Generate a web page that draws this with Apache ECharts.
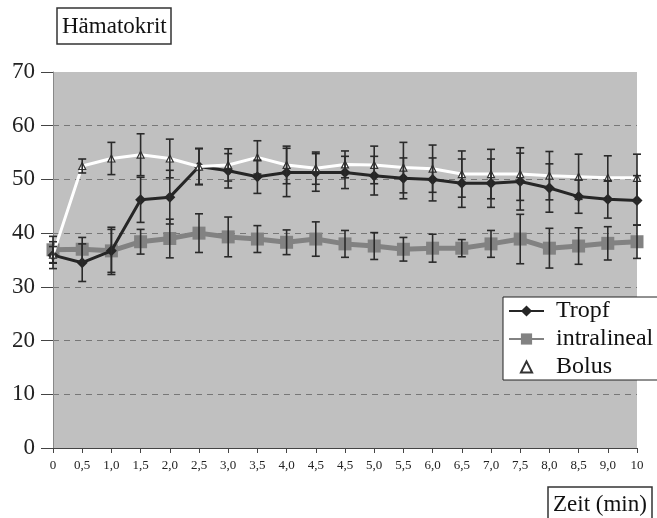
<!DOCTYPE html>
<html>
<head>
<meta charset="utf-8">
<script src="https://cdn.jsdelivr.net/npm/echarts@6/dist/echarts.min.js"></script>
<style>html,body{margin:0;padding:0;background:#fff;}#c{width:657px;height:518px;}</style>
</head>
<body>
<div id="c"></div>
<script>
const categories = ['0','0,5','1,0','1,5','2,0','2,5','3,0','3,5','4,0','4,5','4,5','5,0','5,5','6,0','6,5','7,0','7,5','8,0','8,5','9,0','10'];
const yTicks = [0,10,20,30,40,50,60,70];
const tropf = [35.9,34.5,36.7,46.2,46.7,52.4,51.6,50.5,51.3,51.3,51.3,50.7,50.2,50.0,49.3,49.3,49.6,48.4,46.8,46.3,46.1];
const tropfErr = [2.5,3.5,4.4,4.2,5.0,3.4,3.2,3.1,4.5,3.5,3.0,3.6,3.8,4.0,4.5,4.5,5.3,4.5,3.1,3.5,4.6];
const intra = [36.9,37.0,36.7,38.4,39.0,40.0,39.3,38.9,38.3,38.9,38.0,37.6,37.0,37.2,37.2,38.0,38.9,37.2,37.6,38.1,38.4];
const intraErr = [2.5,2.2,4.0,2.3,3.6,3.6,3.7,2.5,2.3,3.2,2.5,2.5,2.2,2.6,1.6,2.5,4.6,3.7,3.4,3.1,3.1];
const bolus = [36.0,52.5,53.9,54.6,53.9,52.4,52.7,54.1,52.7,52.1,52.8,52.7,52.2,52.0,51.0,51.0,51.0,50.7,50.5,50.3,50.3];
const bolusErr = [1.5,1.3,3.0,3.9,3.6,3.3,3.0,3.1,3.5,3.0,2.5,3.5,4.7,4.4,4.3,4.6,4.9,4.5,4.2,4.1,4.4];

function errData(vals, errs){ return vals.map((v,i)=>[i, v-errs[i], v+errs[i]]); }
function errSeries(vals, errs){
  return {
    type:'custom', z:6, silent:true,
    data: errData(vals, errs),
    encode:{x:0, y:[1,2]},
    renderItem:function(params, api){
      const x = api.value(0);
      const lo = api.coord([x, api.value(1)]);
      const hi = api.coord([x, api.value(2)]);
      const w = 4;
      const st = {stroke:'#2a2a2a', lineWidth:1.6};
      return {type:'group', children:[
        {type:'line', shape:{x1:hi[0],y1:hi[1],x2:lo[0],y2:lo[1]}, style:st},
        {type:'line', shape:{x1:hi[0]-w,y1:hi[1],x2:hi[0]+w,y2:hi[1]}, style:st},
        {type:'line', shape:{x1:lo[0]-w,y1:lo[1],x2:lo[0]+w,y2:lo[1]}, style:st}
      ]};
    }
  };
}
const serif = 'Liberation Serif';
const chart = echarts.init(document.getElementById('c'));
chart.setOption({
  animation:false,
  backgroundColor:'#fff',
  title:[
    {text:'Hämatokrit', left:57, top:8, padding:[7,5,6,5], borderWidth:1.5, borderColor:'#333',
     textStyle:{fontFamily:serif, fontSize:23, fontWeight:'normal', color:'#111'}},
    {text:'Zeit (min)', left:548, top:487, padding:[6,5,6,5], borderWidth:1.5, borderColor:'#333',
     textStyle:{fontFamily:serif, fontSize:23, fontWeight:'normal', color:'#111'}}
  ],
  grid:{left:53, right:20, top:72, bottom:70, show:true, backgroundColor:'#c0c0c0', borderWidth:0},
  legend:{
    orient:'vertical', left:503, top:297, padding:[2,40,1,5], itemGap:4,
    backgroundColor:'#fff', borderColor:'#222', borderWidth:1,
    itemWidth:35, itemHeight:14,
    textStyle:{fontFamily:serif, fontSize:24, color:'#111', lineHeight:24, padding:[0,0,0,7]},
    data:[
      {name:'Tropf'},
      {name:'intralineal'},
      {name:'Bolus', lineStyle:{opacity:0}}
    ]
  },
  xAxis:{
    type:'category', data:categories, boundaryGap:false,
    axisLine:{lineStyle:{color:'#444', width:1}},
    axisTick:{show:true, length:5, lineStyle:{color:'#444'}},
    axisLabel:{fontFamily:serif, fontSize:13, color:'#222', margin:11, interval:0},
    splitLine:{show:false}
  },
  yAxis:{
    type:'value', min:0, max:70, interval:10,
    axisLine:{show:true, lineStyle:{color:'#888', width:1}},
    axisTick:{show:true, length:12, lineStyle:{color:'#444'}},
    axisLabel:{fontFamily:serif, fontSize:23, color:'#222', margin:18,
      formatter:function(v){ return yTicks.indexOf(v)>=0 ? String(v) : ''; }},
    splitLine:{show:true, lineStyle:{type:[6,5], color:['#777','#777','#777','#777','#777','#777','#777','rgba(0,0,0,0)'], width:1}}
  },
  series:[
    {name:'Tropf', type:'line', data:tropf, z:4, symbol:'diamond', symbolSize:11,
     lineStyle:{color:'#262626', width:3}, itemStyle:{color:'#262626'}},
    {name:'intralineal', type:'line', data:intra, z:3, symbol:'rect', symbolSize:13,
     lineStyle:{color:'#828282', width:5}, itemStyle:{color:'#828282'}},
    {name:'Bolus', type:'line', data:bolus, z:5, symbol:'triangle', symbolSize:7,
     lineStyle:{color:'#ffffff', width:3}, itemStyle:{color:'#ffffff', borderColor:'#333', borderWidth:1.2}},
    errSeries(tropf, tropfErr),
    errSeries(intra, intraErr),
    errSeries(bolus, bolusErr)
  ]
});
</script>
</body>
</html>
